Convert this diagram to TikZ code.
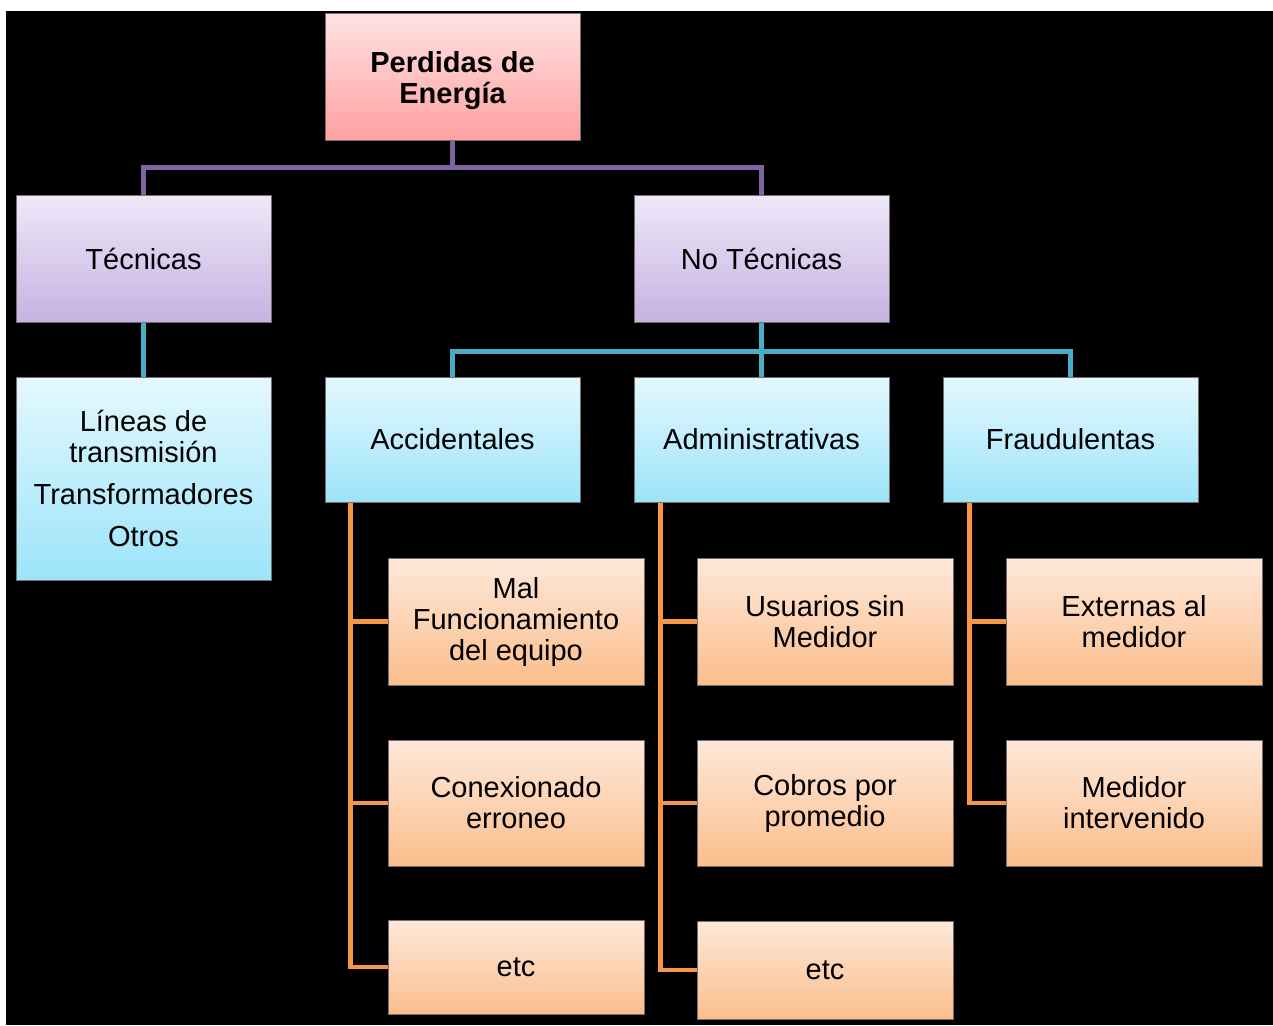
\documentclass[tikz,border=0pt]{standalone}
\usepackage{fontspec}
\setmainfont{Liberation Sans}
\definecolor{purpleline}{RGB}{128,100,162}
\definecolor{tealline}{RGB}{75,172,198}
\definecolor{orangeline}{RGB}{247,150,70}
\definecolor{pinkT}{RGB}{255,226,226}
\definecolor{pinkB}{RGB}{255,160,160}
\definecolor{lilT}{RGB}{238,232,248}
\definecolor{lilB}{RGB}{198,178,226}
\definecolor{cyanT}{RGB}{228,248,254}
\definecolor{cyanB}{RGB}{156,228,250}
\definecolor{orT}{RGB}{254,232,218}
\definecolor{orB}{RGB}{251,190,140}
\definecolor{boxedge}{RGB}{120,110,110}
\tikzset{
  box/.style={rectangle, draw=boxedge, line width=1pt, inner sep=0pt,
    minimum width=255pt, align=center, font=\fontsize{29}{31}\selectfont},
  pinkbox/.style={box, top color=pinkT, bottom color=pinkB},
  lilbox/.style={box, top color=lilT, bottom color=lilB},
  cyanbox/.style={box, top color=cyanT, bottom color=cyanB},
  orbox/.style={box, top color=orT, bottom color=orB, minimum width=256pt},
  conn/.style={line width=4.5pt},
}
\begin{document}
\begin{tikzpicture}[x=1pt,y=-1pt]
\useasboundingbox (0,0) rectangle (1273,1025);
\fill[white] (0,0) rectangle (1273,1025);
\fill[black] (6,11) rectangle (1273,1025);

% nodes
\node[pinkbox, minimum height=126pt, font=\fontsize{29}{31}\selectfont\bfseries] (root) at (452.5,77) {\rule{0pt}{28pt}Perdidas de\\Energía};
\node[lilbox, minimum height=127pt] (tec) at (143.5,258.5) {Técnicas};
\node[lilbox, minimum height=127pt] (notec) at (761.5,258.5) {No Técnicas};
\node[cyanbox, minimum height=203pt] (lin) at (143.5,478.5) {Líneas de\\transmisión\\[11pt]Transformadores\\[11pt]Otros};
\node[cyanbox, minimum height=125pt] (acc) at (452.5,439.5) {Accidentales};
\node[cyanbox, minimum height=125pt] (adm) at (761.5,439.5) {Administrativas};
\node[cyanbox, minimum height=125pt] (fra) at (1070.5,439.5) {Fraudulentas};

\node[orbox, minimum height=127pt] (a1) at (516,621.5) {Mal\\Funcionamiento\\del equipo};
\node[orbox, minimum height=126pt] (a2) at (516,803) {Conexionado\\erroneo};
\node[orbox, minimum height=94pt] (a3) at (516,967) {etc};
\node[orbox, minimum height=127pt] (b1) at (825,621.5) {Usuarios sin\\Medidor};
\node[orbox, minimum height=126pt] (b2) at (825,803) {Cobros por\\promedio};
\node[orbox, minimum height=98pt] (b3) at (825,970) {etc};
\node[orbox, minimum height=127pt] (c1) at (1134,621.5) {Externas al\\medidor};
\node[orbox, minimum height=126pt] (c2) at (1134,803) {Medidor\\intervenido};

% connectors
\draw[conn, purpleline] (root.south) -- ++(0,27) -| (tec.north);
\draw[conn, purpleline] (root.south) -- ++(0,27) -| (notec.north);
\draw[conn, tealline] (tec.south) -- (lin.north);
\draw[conn, tealline] (notec.south) -- ++(0,29) -| (acc.north);
\draw[conn, tealline] (notec.south) -- ++(0,29) -| (fra.north);
\draw[conn, tealline] (notec.south) -- (adm.north);

\coordinate (ta) at ([xshift=26pt]acc.south west);
\coordinate (tb) at ([xshift=27pt]adm.south west);
\coordinate (tc) at ([xshift=27pt]fra.south west);
\draw[conn, orangeline] (ta) |- (a1.west);
\draw[conn, orangeline] (ta) |- (a2.west);
\draw[conn, orangeline] (ta) |- (a3.west);
\draw[conn, orangeline] (tb) |- (b1.west);
\draw[conn, orangeline] (tb) |- (b2.west);
\draw[conn, orangeline] (tb) |- (b3.west);
\draw[conn, orangeline] (tc) |- (c1.west);
\draw[conn, orangeline] (tc) |- (c2.west);
\end{tikzpicture}
\end{document}
